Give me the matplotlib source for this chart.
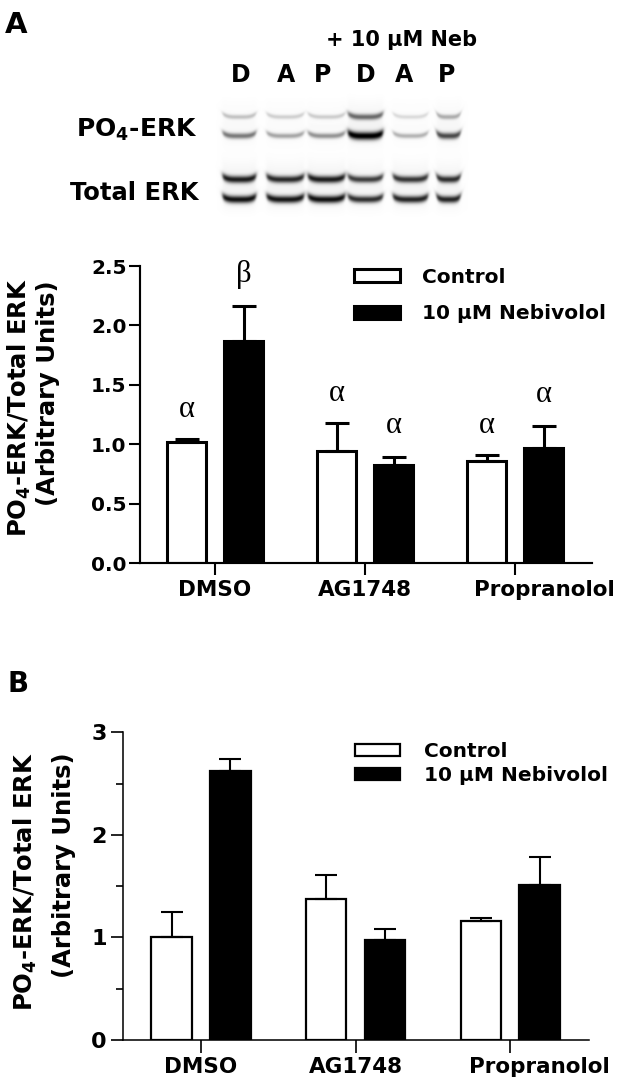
import numpy as np
import matplotlib
matplotlib.use('Agg')
import matplotlib.pyplot as plt
from matplotlib.transforms import ScaledTranslation

plt.rcParams['font.family'] = ['DejaVu Sans']
plt.rcParams['font.weight'] = 'bold'
plt.rcParams['mathtext.default'] = 'bf'

# ---------------- data ----------------
categories = ['DMSO', 'AG1748', 'Propranolol']
series = ['Control', '10 \u03bcM Nebivolol']

a_control = [1.02, 0.945, 0.86]
a_control_err = [0.025, 0.232, 0.05]
a_neb = [1.872, 0.827, 0.972]
a_neb_err = [0.295, 0.064, 0.185]
a_letters_control = ['\u03b1', '\u03b1', '\u03b1']
a_letters_neb = ['\u03b2', '\u03b1', '\u03b1']
a_yticks = [0.0, 0.5, 1.0, 1.5, 2.0, 2.5]
a_yticklabels = ['0.0', '0.5', '1.0', '1.5', '2.0', '2.5']

b_control = [1.0, 1.371, 1.157]
b_control_err = [0.245, 0.237, 0.03]
b_neb = [2.625, 0.975, 1.514]
b_neb_err = [0.111, 0.104, 0.267]
b_yticks = [0, 1, 2, 3]
b_yticklabels = ['0', '1', '2', '3']
b_yminor = [0.5, 1.5, 2.5]

blot_lanes = ['D', 'A', 'P', 'D', 'A', 'P']
blot_rows = ['PO$_4$-ERK', 'Total ERK']
blot_header = '+ 10 \u03bcM Neb'
po4_upper = [0.22, 0.17, 0.18, 0.55, 0.13, 0.30]
po4_lower = [0.50, 0.33, 0.40, 1.00, 0.28, 0.68]
total_upper = [0.85, 0.80, 0.85, 0.72, 0.75, 0.78]
total_lower = [0.90, 0.88, 0.90, 0.78, 0.82, 0.82]

ylabel1 = 'PO$_4$-ERK/Total ERK'
ylabel2 = '(Arbitrary Units)'

# ---------------- layout ----------------
W, H = 620, 1089
fig = plt.figure(figsize=(W / 100, H / 100), dpi=100)


def box(l, t, r, b):
    return [l / W, 1 - b / H, (r - l) / W, (b - t) / H]


def fx(x):
    return x / W


def fy(y):
    return 1 - y / H


# ---------------- blot ----------------
lane_left = [222.7, 266.7, 308.0, 348.0, 393.0, 436.7]
lane_right = [256.0, 304.0, 345.0, 383.0, 428.0, 460.5]
band_y = [117.0, 136.0, 179.5, 199.5]
bands = [po4_upper, po4_lower, total_upper, total_lower]

bx0, bx1, by0, by1 = 205, 485, 92, 222
xs = np.arange(bx0, bx1, 0.5) + 0.25
ys = np.arange(by0, by1, 0.5) + 0.25
X, Y = np.meshgrid(xs, ys)
img = np.zeros_like(X)
for i in range(len(blot_lanes)):
    cx = 0.5 * (lane_left[i] + lane_right[i])
    hw = 0.5 * (lane_right[i] - lane_left[i])
    hprof = 0.5 * (np.tanh((X - (cx - hw)) / 1.8) - np.tanh((X - (cx + hw)) / 1.8))
    for j, vals in enumerate(bands):
        amp = vals[i]
        yc = band_y[j] - 3.5 * ((X - cx) / hw) ** 4
        sig = 1.3 + 1.5 * amp
        img += amp * hprof * np.exp(-0.5 * ((Y - yc) / sig) ** 2)
        img += 0.04 * amp * hprof * np.exp(-0.5 * ((Y - yc + 4) / 9.0) ** 2)
# faint membrane background
bg = 0.25 * (np.tanh((X - 215) / 4) - np.tanh((X - 470) / 4)) * 0.25 * (np.tanh((Y - 100) / 4) - np.tanh((Y - 214) / 4))
img += 0.02 * bg
img = np.clip(img, 0, 1)

axb = fig.add_axes(box(bx0, by0, bx1, by1))
axb.imshow(img, extent=(bx0, bx1, by1, by0), cmap='gray_r', vmin=0, vmax=1,
           aspect='auto', interpolation='bilinear')
axb.axis('off')

fig.text(fx(5), fy(33), 'A', fontsize=21, ha='left', va='baseline')
fig.text(fx(326), fy(46.5), blot_header, fontsize=15, ha='left', va='baseline')
lane_letter_x = [241, 286, 323, 366, 404, 447]
for lx, lt in zip(lane_letter_x, blot_lanes):
    fig.text(fx(lx), fy(82), lt, fontsize=17, ha='center', va='baseline')
fig.text(fx(198), fy(137), blot_rows[0], fontsize=18, ha='right', va='baseline')
fig.text(fx(198), fy(200), blot_rows[1], fontsize=17.5, ha='right', va='baseline')

fig.text(fx(7), fy(692), 'B', fontsize=20, ha='left', va='baseline')

# ---------------- bar panels ----------------
OFF = 0.19
BW = 0.262


def draw_panel(ax, ctrl, ctrl_err, neb, neb_err, lw, elw, capsize):
    x = np.arange(len(categories))
    b1 = ax.bar(x - OFF, ctrl, BW, color='white', edgecolor='black', linewidth=lw,
                label=series[0], zorder=2)
    b2 = ax.bar(x + OFF, neb, BW, color='black', edgecolor='black', linewidth=lw,
                label=series[1], zorder=2)
    ax.errorbar(x - OFF, ctrl, yerr=[np.zeros(len(ctrl)), ctrl_err], fmt='none',
                ecolor='black', elinewidth=elw, capsize=capsize, capthick=elw, zorder=3)
    ax.errorbar(x + OFF, neb, yerr=[np.zeros(len(neb)), neb_err], fmt='none',
                ecolor='black', elinewidth=elw, capsize=capsize, capthick=elw, zorder=3)
    for s in ['top', 'right']:
        ax.spines[s].set_visible(False)
    for s in ['left', 'bottom']:
        ax.spines[s].set_linewidth(lw * 0.7)
    ax.set_xticks(x)
    ax.set_xticklabels(categories)
    return x, b1, b2


# Panel A
axA = fig.add_axes(box(140, 266, 591.7, 563.3))
xA, a1, a2 = draw_panel(axA, a_control, a_control_err, a_neb, a_neb_err, 2.2, 2.2, 8.3)
axA.set_ylim(0, 2.5)
axA.set_xlim(-0.5, 2.51)
axA.set_yticks(a_yticks)
axA.set_yticklabels(a_yticklabels)
axA.tick_params(axis='y', length=7.7, width=1.5, pad=2, labelsize=14.5)
axA.tick_params(axis='x', length=8.5, width=1.5, pad=3.5, labelsize=15.5)
for xi, v, e, t in zip(xA, a_control, a_control_err, a_letters_control):
    axA.text(xi - OFF, v + e + 0.25, t, ha='center', va='center', fontsize=22,
             family='Liberation Serif', fontweight='normal')
for xi, v, e, t in zip(xA, a_neb, a_neb_err, a_letters_neb):
    axA.text(xi + OFF, v + e + 0.265, t, ha='center', va='center', fontsize=22,
             family='Liberation Serif', fontweight='normal')
axA.legend(handles=[a1, a2], labels=series, loc='upper left',
           bbox_to_anchor=(fx(354), fy(268)), bbox_transform=fig.transFigure,
           frameon=False, fontsize=14.5, handlelength=2.3, handleheight=0.62,
           handletextpad=1.1, labelspacing=0.85, borderpad=0, borderaxespad=0)

# Panel B
axB = fig.add_axes(box(123.3, 732.3, 589.3, 1040))
xB, c1, c2 = draw_panel(axB, b_control, b_control_err, b_neb, b_neb_err, 1.6, 1.5, 7.8)
axB.set_ylim(0, 3)
axB.set_xlim(-0.503, 2.512)
axB.set_yticks(b_yticks)
axB.set_yticklabels(b_yticklabels)
axB.set_yticks(b_yminor, minor=True)
axB.tick_params(axis='y', which='major', length=8.4, width=1.2, pad=3.5, labelsize=16)
axB.tick_params(axis='y', which='minor', length=5.3, width=1.2)
axB.tick_params(axis='x', length=9.5, width=1.2, pad=2.5, labelsize=15.5)
axB.legend(handles=[c1, c2], labels=series, loc='upper left',
           bbox_to_anchor=(fx(355), fy(742)), bbox_transform=fig.transFigure,
           frameon=False, fontsize=14.5, handlelength=2.25, handleheight=0.6,
           handletextpad=1.2, labelspacing=0.25, borderpad=0, borderaxespad=0)

# Propranolol labels sit to the right of their tick in the original
for ax in (axA, axB):
    lbl = ax.get_xticklabels()[2]
    lbl.set_transform(lbl.get_transform() + ScaledTranslation(0.29, 0, fig.dpi_scale_trans))

# y labels
fig.text(fx(19), fy(278), ylabel1, rotation=90, ha='center', va='top', fontsize=17.5)
fig.text(fx(48), fy(280), ylabel2, rotation=90, ha='center', va='top', fontsize=17.5)
fig.text(fx(25), fy(752), ylabel1, rotation=90, ha='center', va='top', fontsize=17.5)
fig.text(fx(64), fy(752), ylabel2, rotation=90, ha='center', va='top', fontsize=17.5)

fig.savefig('out.png', dpi=100)
